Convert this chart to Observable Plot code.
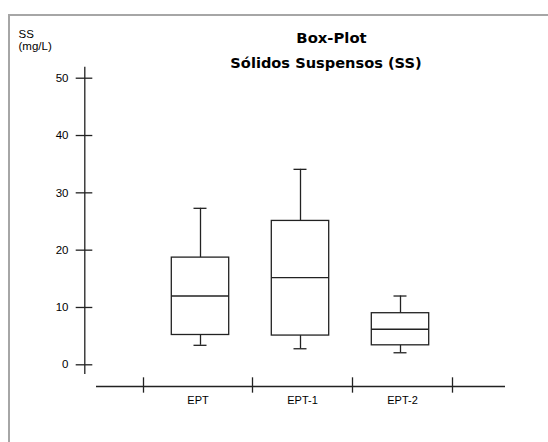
<!DOCTYPE html>
<html>
<head>
<meta charset="utf-8">
<script src="https://cdn.jsdelivr.net/npm/d3@7"></script>
<script src="https://cdn.jsdelivr.net/npm/@observablehq/plot@0.6"></script>
<style>
  html, body { margin: 0; padding: 0; background: #fff; }
  #wrap { position: relative; width: 548px; height: 442px; overflow: hidden; }
  #border { position: absolute; left: 8px; top: 14px; width: 600px; height: 500px;
            border-top: 2px solid #a6a6a6; border-left: 2px solid #a6a6a6; }
  #chart { position: absolute; left: 0; top: 0; }
</style>
</head>
<body>
<div id="wrap"><div id="border"></div><div id="chart"></div></div>
<script>
// ---- data ----
const categories = ["EPT", "EPT-1", "EPT-2"];
const whiskerLow  = [3.4, 2.8, 2.1];
const q1          = [5.2, 5.1, 3.4];
const median      = [12.0, 15.2, 6.2];
const q3          = [18.7, 25.1, 9.0];
const whiskerHigh = [27.3, 34.1, 12.0];
const yTicks = [0, 10, 20, 30, 40, 50];
const titleText = "Box-Plot";
const subtitleText = "Sólidos Suspensos (SS)";
const unitLines = ["SS", "(mg/L)"];

// ---- layout (in scale units) ----
const boxHalf = 0.287, capHalf = 0.065;
const yAxisX = -0.157, yAxisTop = 51.92, yAxisBottom = -1.69;
const yTickX1 = -0.243, yTickX2 = -0.077;
const xAxisY = -3.79, xAxisX1 = -0.04, xAxisX2 = 4.05;
const sepY1 = -2.27, sepY2 = -4.95;
const separators = [0.43, 1.52, 2.52, 3.52];
const labelY = -6.2;

const ink = "#222";
const rows = categories.map((c, i) => ({c, pos: i + 1, lo: whiskerLow[i], q1: q1[i], med: median[i], q3: q3[i], hi: whiskerHigh[i]}));

const chart = Plot.plot({
  width: 548, height: 442,
  marginLeft: 100, marginRight: 48, marginTop: 77.7, marginBottom: 77.7,
  x: {domain: [0, 4], axis: null},
  y: {domain: [0, 50], axis: null},
  style: {fontFamily: "'Liberation Sans', Arial, sans-serif", fontSize: "11px", color: "#000", background: "transparent", overflow: "visible"},
  marks: [
    // y axis
    Plot.ruleX([yAxisX], {y1: yAxisBottom, y2: yAxisTop, stroke: ink, strokeWidth: 1.3}),
    Plot.ruleY(yTicks, {x1: yTickX1, x2: yTickX2, stroke: ink, strokeWidth: 1.3}),
    Plot.axisY({ticks: yTicks, tickSize: 0, tickPadding: 32, label: null, fontSize: 11.5}),
    // x axis
    Plot.ruleY([xAxisY], {x1: xAxisX1, x2: xAxisX2, stroke: ink, strokeWidth: 1.3}),
    Plot.ruleX(separators, {y1: sepY1, y2: sepY2, stroke: ink, strokeWidth: 1.3}),
    Plot.text(categories, {x: (d, i) => (separators[i] + separators[i + 1]) / 2, y: labelY, fontSize: 11, fill: "#000"}),
    // whiskers
    Plot.ruleX(rows, {x: "pos", y1: "q3", y2: "hi", stroke: ink, strokeWidth: 1.3}),
    Plot.ruleX(rows, {x: "pos", y1: "lo", y2: "q1", stroke: ink, strokeWidth: 1.3}),
    Plot.ruleY(rows, {y: "hi", x1: d => d.pos - capHalf, x2: d => d.pos + capHalf, stroke: ink, strokeWidth: 1.3}),
    Plot.ruleY(rows, {y: "lo", x1: d => d.pos - capHalf, x2: d => d.pos + capHalf, stroke: ink, strokeWidth: 1.3}),
    // boxes
    Plot.rect(rows, {x1: d => d.pos - boxHalf, x2: d => d.pos + boxHalf, y1: "q1", y2: "q3", fill: "white", stroke: ink, strokeWidth: 1.3}),
    Plot.ruleY(rows, {y: "med", x1: d => d.pos - boxHalf, x2: d => d.pos + boxHalf, stroke: ink, strokeWidth: 1.3}),
    // titles
    Plot.text([titleText], {frameAnchor: "top-left", lineAnchor: "middle", dx: 231, dy: -39.7, textAnchor: "middle", fontSize: 14.8, fontWeight: "bold", fontFamily: "'DejaVu Sans', sans-serif", fill: "#000"}),
    Plot.text([subtitleText], {frameAnchor: "top-left", lineAnchor: "middle", dx: 225.5, dy: -14.9, textAnchor: "middle", fontSize: 14.6, fontWeight: "bold", fontFamily: "'DejaVu Sans', sans-serif", fill: "#000"}),
    Plot.text([unitLines[0]], {frameAnchor: "top-left", lineAnchor: "middle", dx: -82, dy: -44.2, textAnchor: "start", fontSize: 11.5, fill: "#000"}),
    Plot.text([unitLines[1]], {frameAnchor: "top-left", lineAnchor: "middle", dx: -82, dy: -31.7, textAnchor: "start", fontSize: 11.5, fill: "#000"})
  ]
});
document.getElementById("chart").appendChild(chart);
</script>
</body>
</html>
